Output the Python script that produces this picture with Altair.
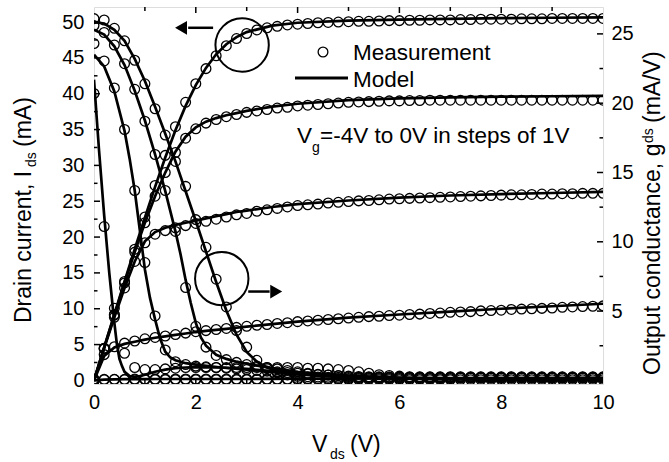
import altair as alt
import pandas as pd

# ---------------- data ----------------
VDS = [0.0, 0.2, 0.4, 0.6, 0.8, 1.0, 1.2, 1.4, 1.6, 1.8, 2.0, 2.2, 2.4, 2.6, 2.8,
       3.0, 3.2, 3.4, 3.6, 3.8, 4.0, 4.2, 4.4, 4.6, 4.8, 5.0, 5.2, 5.4, 5.6, 5.8,
       6.0, 6.2, 6.4, 6.6, 6.8, 7.0, 7.2, 7.4, 7.6, 7.8, 8.0, 8.2, 8.4, 8.6, 8.8,
       9.0, 9.2, 9.4, 9.6, 9.8, 10.0]

# measured drain current (mA), Vg = 0, -1, -2, -3, -4 V
IDS_M_0 = [0, 4.5, 9.2, 13.8, 18.3, 22.8, 27.2, 31.4, 35.4, 38.8, 41.4, 43.5, 45.3, 46.7, 47.7,
           48.4, 48.9, 49.2, 49.4, 49.6, 49.7, 49.8, 49.9, 49.95, 50.0, 50.05, 50.1, 50.1, 50.15, 50.2,
           50.2, 50.25, 50.25, 50.3, 50.3, 50.3, 50.35, 50.35, 50.4, 50.4, 50.4, 50.4, 50.45, 50.45, 50.45,
           50.5, 50.5, 50.5, 50.5, 50.5, 50.5]
IDS_M_1 = [0, 4.5, 9.1, 13.6, 17.9, 22.0, 25.7, 29.0, 31.8, 33.8, 35.1, 35.9, 36.4, 36.8, 37.1,
           37.4, 37.6, 37.8, 38.0, 38.1, 38.3, 38.4, 38.5, 38.6, 38.7, 38.8, 38.85, 38.9, 38.95, 39.0,
           39.0, 39.05, 39.05, 39.1, 39.1, 39.1, 39.1, 39.1, 39.1, 39.1, 39.1, 39.1, 39.1, 39.1, 39.1,
           39.1, 39.1, 39.1, 39.1, 39.1, 39.1]
IDS_M_2 = [0, 4.4, 8.8, 12.9, 16.6, 19.2, 20.4, 20.9, 21.3, 21.6, 21.9, 22.2, 22.5, 22.8, 23.1,
           23.3, 23.6, 23.8, 24.0, 24.2, 24.4, 24.5, 24.6, 24.75, 24.85, 24.95, 25.05, 25.1, 25.2, 25.3,
           25.35, 25.4, 25.45, 25.5, 25.55, 25.6, 25.65, 25.7, 25.75, 25.8, 25.85, 25.9, 25.9, 25.95, 26.0,
           26.0, 26.05, 26.05, 26.1, 26.1, 26.1]
IDS_M_3 = [0, 3.6, 4.7, 5.2, 5.5, 5.8, 6.0, 6.2, 6.4, 6.6, 6.8, 6.95, 7.1, 7.25, 7.4,
           7.55, 7.7, 7.8, 7.95, 8.05, 8.2, 8.3, 8.4, 8.5, 8.6, 8.7, 8.8, 8.9, 8.95, 9.05,
           9.1, 9.2, 9.25, 9.35, 9.4, 9.5, 9.55, 9.6, 9.7, 9.75, 9.8, 9.9, 9.95, 10.0, 10.05,
           10.1, 10.2, 10.25, 10.3, 10.35, 10.4]
IDS_M_4 = [0, 0.1, 0.15, 0.15, 0.2, 0.2, 0.2, 0.2, 0.2, 0.2, 0.2, 0.2, 0.2, 0.2, 0.2,
           0.2, 0.2, 0.2, 0.2, 0.2, 0.25, 0.25, 0.25, 0.25, 0.25, 0.25, 0.25, 0.25, 0.25, 0.25,
           0.25, 0.25, 0.25, 0.25, 0.25, 0.25, 0.3, 0.3, 0.3, 0.3, 0.3, 0.3, 0.3, 0.3, 0.3,
           0.3, 0.3, 0.3, 0.3, 0.3, 0.3]

# measured output conductance (mA/V)
GDS_M_0 = [26.1, 26.0, 25.4, 24.5, 23.1, 21.4, 19.6, 17.7, 15.8, 14.0, 11.6, 9.6, 7.3, 5.3, 3.6,
           2.4, 1.45, 0.85, 0.55, 0.4, 0.3, 0.27, 0.25, 0.23, 0.22, 0.21, 0.2, 0.2, 0.2, 0.2,
           0.2, 0.2, 0.2, 0.2, 0.2, 0.2, 0.2, 0.2, 0.2, 0.2, 0.2, 0.2, 0.2, 0.2, 0.2,
           0.2, 0.2, 0.2, 0.2, 0.2, 0.2]
GDS_M_1 = [25.6, 25.1, 24.2, 22.85, 21.0, 18.7, 16.3, 13.7, 10.75, 6.7, 3.9, 2.4, 1.8, 1.5, 1.3,
           1.14, 1.03, 0.93, 0.83, 0.72, 0.62, 0.52, 0.44, 0.39, 0.34, 0.28, 0.22, 0.22, 0.22, 0.22,
           0.22, 0.22, 0.22, 0.22, 0.22, 0.22, 0.22, 0.22, 0.22, 0.22, 0.22, 0.22, 0.22, 0.22, 0.22,
           0.22, 0.22, 0.22, 0.22, 0.22, 0.22]
GDS_M_2 = [24.3, 23.05, 21.1, 18.1, 13.7, 8.5, 4.65, 2.2, 1.35, 1.14, 1.03, 0.98, 0.93, 0.88, 0.83,
           0.78, 0.72, 0.67, 0.62, 0.57, 0.52, 0.47, 0.41, 0.39, 0.36, 0.31, 0.28, 0.27, 0.26, 0.25,
           0.24, 0.23, 0.23, 0.23, 0.23, 0.23, 0.23, 0.23, 0.23, 0.23, 0.23, 0.23, 0.23, 0.23, 0.23,
           0.23, 0.23, 0.23, 0.23, 0.23, 0.23]
GDS_M_3 = [20.7, 11.1, 5.2, 1.96, 0.93, 0.78, 0.78, 0.83, 0.88, 0.93, 0.93, 0.93, 0.93, 0.93, 0.93,
           0.93, 0.93, 0.93, 0.93, 0.93, 0.93, 0.88, 0.88, 0.83, 0.78, 0.72, 0.62, 0.52, 0.41, 0.36,
           0.31, 0.26, 0.26, 0.26, 0.26, 0.26, 0.26, 0.26, 0.26, 0.26, 0.26, 0.26, 0.26, 0.26, 0.26,
           0.26, 0.26, 0.26, 0.26, 0.26, 0.26]
GDS_M_4 = [0.1, 0.08, 0.06, 0.05, 0.05, 0.05, 0.05, 0.05, 0.05, 0.05, 0.05, 0.05, 0.05, 0.05, 0.05,
           0.05, 0.05, 0.05, 0.05, 0.05, 0.05, 0.05, 0.05, 0.05, 0.05, 0.05, 0.05, 0.05, 0.05, 0.05,
           0.05, 0.05, 0.05, 0.05, 0.05, 0.05, 0.05, 0.05, 0.05, 0.05, 0.05, 0.05, 0.05, 0.05, 0.05,
           0.05, 0.05, 0.05, 0.05, 0.05, 0.05]

# model curves
VDS_MI = [0, 0.2, 0.4, 0.6, 0.8, 1.0, 1.2, 1.4, 1.6, 1.8, 2.0, 2.2, 2.4, 2.6, 2.8, 3.0, 3.5, 4, 5, 6, 7, 8, 9, 10]
IDS_F_0 = [0, 4.6, 9.2, 13.8, 18.3, 22.7, 27.0, 31.1, 34.9, 38.3, 41.2, 43.6, 45.5, 46.9, 47.9, 48.6, 49.5, 49.9, 50.2, 50.35, 50.45, 50.55, 50.6, 50.65]
IDS_F_1 = [0, 4.6, 9.1, 13.6, 17.9, 22.0, 25.7, 29.0, 31.9, 34.0, 35.3, 36.1, 36.6, 37.0, 37.3, 37.6, 38.2, 38.6, 39.1, 39.35, 39.5, 39.6, 39.65, 39.7]
IDS_F_2 = [0, 4.5, 8.8, 12.9, 16.6, 19.4, 20.7, 21.3, 21.7, 22.0, 22.3, 22.6, 22.9, 23.2, 23.5, 23.7, 24.2, 24.6, 25.1, 25.5, 25.8, 26.0, 26.15, 26.3]
IDS_F_3 = [0, 3.4, 4.6, 5.1, 5.4, 5.7, 5.95, 6.15, 6.35, 6.55, 6.75, 6.9, 7.05, 7.2, 7.35, 7.5, 7.85, 8.2, 8.75, 9.2, 9.6, 10.0, 10.35, 10.7]
IDS_F_4 = [0, 0.1, 0.15, 0.17, 0.18, 0.19, 0.2, 0.2, 0.2, 0.2, 0.2, 0.2, 0.2, 0.2, 0.2, 0.2, 0.22, 0.24, 0.26, 0.28, 0.3, 0.32, 0.34, 0.36]

VDS_G0 = [0, 0.2, 0.4, 0.6, 0.8, 1.0, 1.2, 1.4, 1.6, 1.8, 2.0, 2.2, 2.4, 2.6, 2.8, 3.0, 3.2, 3.4, 3.6, 3.8, 4.0, 4.5, 5, 6, 7, 8, 10]
GDS_F_0 = [25.85, 25.75, 25.3, 24.5, 23.2, 21.6, 19.75, 17.8, 15.8, 13.65, 11.5, 9.3, 7.1, 5.05, 3.3, 2.05, 1.35, 0.93, 0.67, 0.52, 0.44, 0.31, 0.21, 0.13, 0.08, 0.05, 0.05]
VDS_G1 = [0, 0.2, 0.4, 0.6, 0.8, 1.0, 1.2, 1.4, 1.6, 1.7, 1.8, 1.9, 2.0, 2.1, 2.2, 2.4, 2.6, 2.8, 3.0, 3.5, 4.0, 4.5, 5, 6, 7, 8, 10]
GDS_F_1 = [25.3, 24.95, 24.1, 22.75, 20.9, 18.75, 16.3, 13.65, 10.75, 9.1, 7.25, 5.6, 4.15, 3.1, 2.5, 1.85, 1.55, 1.35, 1.2, 0.88, 0.62, 0.44, 0.31, 0.16, 0.09, 0.06, 0.05]
VDS_G2 = [0, 0.2, 0.4, 0.6, 0.7, 0.8, 0.9, 1.0, 1.1, 1.2, 1.3, 1.4, 1.5, 1.6, 1.8, 2.0, 2.5, 3, 3.5, 4, 5, 6, 8, 10]
GDS_F_2 = [23.5, 22.65, 20.85, 18.0, 16.0, 13.7, 10.85, 8.0, 5.95, 4.4, 3.0, 2.07, 1.65, 1.45, 1.24, 1.14, 0.93, 0.78, 0.62, 0.47, 0.26, 0.16, 0.1, 0.05]
VDS_G3 = [0, 0.05, 0.1, 0.2, 0.3, 0.4, 0.45, 0.5, 0.55, 0.6, 0.7, 0.8, 0.9, 1.0, 1.2, 1.4, 1.6, 1.8, 2.0, 2.5, 3.0, 3.5, 4.0, 4.5, 5, 6, 7, 8, 10]
GDS_F_3 = [21.7, 19.1, 16.55, 11.9, 7.75, 4.15, 2.6, 1.55, 1.03, 0.62, 0.31, 0.26, 0.31, 0.41, 0.62, 0.78, 0.88, 0.93, 0.96, 0.93, 0.83, 0.67, 0.52, 0.41, 0.31, 0.21, 0.16, 0.16, 0.16]

# axis ticks
X_LABELS = [0, 2, 4, 6, 8, 10]
X_MINOR = [1, 3, 5, 7, 9]
X_MAJOR_INNER = [2, 4, 6, 8]
L_LABELS = [0, 5, 10, 15, 20, 25, 30, 35, 40, 45, 50]
L_MINOR = [2.5, 7.5, 12.5, 17.5, 22.5, 27.5, 32.5, 37.5, 42.5, 47.5]
R_LABELS = [5, 10, 15, 20, 25]
R_MINOR = [2.5, 7.5, 12.5, 17.5, 22.5]

# annotation (circles + arrows), in data units
CIRC_X = [2.91, 2.51]
CIRC_Y = [46.8, 14.2]
ARROW_X = [1.85, 3.03]
ARROW_X2 = [2.34, 3.45]
ARROW_Y = [49.2, 12.4]
HEAD_X = [1.71, 3.58]
HEAD_SHAPE = ["triangle-left", "triangle-right"]

FONT = "Liberation Sans"
W, H = 509, 377
L_DOM = [-0.5, 52.1]
R_DOM = [-0.26, 26.94]


def long_df(xs, series):
    rows = []
    for name, vals in series.items():
        xx = xs[name] if isinstance(xs, dict) else xs
        for a, b in zip(xx, vals):
            rows.append({"x": a, "y": b, "curve": name})
    return pd.DataFrame(rows)


ids_meas = long_df(VDS, {"0": IDS_M_0, "-1": IDS_M_1, "-2": IDS_M_2, "-3": IDS_M_3, "-4": IDS_M_4})
ids_fit = long_df(VDS_MI, {"0": IDS_F_0, "-1": IDS_F_1, "-2": IDS_F_2, "-3": IDS_F_3, "-4": IDS_F_4})
gds_meas = long_df(VDS, {"0": GDS_M_0, "-1": GDS_M_1, "-2": GDS_M_2, "-3": GDS_M_3, "-4": GDS_M_4})
gds_fit = long_df({"0": VDS_G0, "-1": VDS_G1, "-2": VDS_G2, "-3": VDS_G3},
                  {"0": GDS_F_0, "-1": GDS_F_1, "-2": GDS_F_2, "-3": GDS_F_3})

X_SCALE = alt.Scale(domain=[0, 10], nice=False, zero=False)
X_AXIS = alt.Axis(values=X_LABELS, title=None, ticks=False, domain=False, grid=False,
                  labelFontSize=20, labelPadding=8, labelFont=FONT, labelColor="black",
                  labelFlush=False)
L_AXIS = alt.Axis(orient="left", values=L_LABELS, title=None, ticks=False, domain=False, grid=False,
                  labelFontSize=20, labelPadding=10, labelFont=FONT, labelColor="black")
R_AXIS = alt.Axis(orient="right", values=R_LABELS, title=None, ticks=False, domain=False, grid=False,
                  labelFontSize=20, labelPadding=8, labelFont=FONT, labelColor="black")


def xe(f="x"):
    return alt.X(f"{f}:Q", scale=X_SCALE, axis=X_AXIS)


def yl(f="y"):
    return alt.Y(f"{f}:Q", scale=alt.Scale(domain=L_DOM, nice=False, zero=False), axis=L_AXIS)


def yr(f="y"):
    return alt.Y(f"{f}:Q", scale=alt.Scale(domain=R_DOM, nice=False, zero=False), axis=R_AXIS)


ONE = pd.DataFrame({"k": [0]})


def txt(s, x, y, size=22.5, angle=0, align="left", baseline="alphabetic"):
    return alt.Chart(ONE).mark_text(text=s, fontSize=size, font=FONT, align=align,
                                    baseline=baseline, angle=angle, color="black").encode(
        x=alt.value(x), y=alt.value(y))


LINE_W = 2.7
PT = dict(shape="circle", filled=False, color="black", size=95, strokeWidth=1.3, opacity=1)

# ---- left group (drain current) ----
ids_lines = alt.Chart(ids_fit).mark_line(color="black", strokeWidth=LINE_W, clip=True).encode(
    x=xe(), y=yl(), detail="curve:N")
ids_pts = alt.Chart(ids_meas).mark_point(clip=True, **PT).encode(x=xe(), y=yl(), detail="curve:N")

lt_major = alt.Chart(pd.DataFrame({"v": L_LABELS})).mark_rule(color="black", strokeWidth=1.5).encode(
    y=yl("v"), x=alt.value(0), x2=alt.value(6))
lt_minor = alt.Chart(pd.DataFrame({"v": L_MINOR})).mark_rule(color="black", strokeWidth=1.5).encode(
    y=yl("v"), x=alt.value(0), x2=alt.value(3.5))
top_major = alt.Chart(pd.DataFrame({"v": X_MAJOR_INNER})).mark_rule(color="black", strokeWidth=1.5).encode(
    x=xe("v"), y=alt.value(0), y2=alt.value(6))
top_minor = alt.Chart(pd.DataFrame({"v": X_MINOR})).mark_rule(color="black", strokeWidth=1.5).encode(
    x=xe("v"), y=alt.value(0), y2=alt.value(4))
bot_major = alt.Chart(pd.DataFrame({"v": X_MAJOR_INNER})).mark_rule(color="black", strokeWidth=1.5).encode(
    x=xe("v"), y=alt.value(H), y2=alt.value(H - 6))
bot_minor = alt.Chart(pd.DataFrame({"v": X_MINOR})).mark_rule(color="black", strokeWidth=1.5).encode(
    x=xe("v"), y=alt.value(H), y2=alt.value(H - 4))

circles = alt.Chart(pd.DataFrame({"x": CIRC_X, "y": CIRC_Y})).mark_point(
    shape="circle", filled=False, color="black", size=2850, strokeWidth=2, opacity=1).encode(x=xe(), y=yl())
shafts = alt.Chart(pd.DataFrame({"x": ARROW_X, "x2": ARROW_X2, "y": ARROW_Y})).mark_rule(
    color="black", strokeWidth=2.5).encode(x=xe(), x2="x2:Q", y=yl())
heads = alt.Chart(pd.DataFrame({"x": HEAD_X, "y": ARROW_Y, "s": HEAD_SHAPE})).mark_point(
    filled=True, color="black", size=190, opacity=1).encode(
    x=xe(), y=yl(), shape=alt.Shape("s:N", scale=None))

leg_pt = alt.Chart(ONE).mark_point(**PT).encode(x=alt.value(229), y=alt.value(45))
leg_ln = alt.Chart(ONE).mark_rule(color="black", strokeWidth=3).encode(
    x=alt.value(201), x2=alt.value(254), y=alt.value(71))

texts = [
    txt("Measurement", 259, 53),
    txt("Model", 259, 80),
    txt("V", 203, 136),
    txt("g", 218, 145, size=14),
    txt("=-4V to 0V in steps of 1V", 226, 136),
    # x title
    txt("V", 218, 445, size=23),
    txt("ds", 236, 452, size=14),
    txt("(V)", 256, 445, size=23),
    # left title (rotated)
    txt("Drain current, I", -63, 316, size=23, angle=270),
    txt("ds", -58, 160, size=14, angle=270),
    txt("(mA)", -63, 140, size=23, angle=270),
    # right title (rotated)
    txt("Output conductance, g", 566, 368, size=23, angle=270),
    txt("ds", 559, 136, size=14, angle=270),
    txt("(mA/V)", 566, 116, size=23, angle=270),
]

left = alt.layer(ids_lines, ids_pts, lt_major, lt_minor, top_major, top_minor, bot_major, bot_minor,
                 circles, shafts, heads, leg_pt, leg_ln, *texts)

# ---- right group (output conductance) ----
gds_lines = alt.Chart(gds_fit).mark_line(color="black", strokeWidth=LINE_W, clip=True).encode(
    x=xe(), y=yr(), detail="curve:N")
gds_pts = alt.Chart(gds_meas).mark_point(clip=True, **PT).encode(x=xe(), y=yr(), detail="curve:N")
rt_major = alt.Chart(pd.DataFrame({"v": R_LABELS})).mark_rule(color="black", strokeWidth=1.5).encode(
    y=yr("v"), x=alt.value(W), x2=alt.value(W - 6))
rt_minor = alt.Chart(pd.DataFrame({"v": R_MINOR})).mark_rule(color="black", strokeWidth=1.5).encode(
    y=yr("v"), x=alt.value(W), x2=alt.value(W - 3.5))

right = alt.layer(gds_lines, gds_pts, rt_major, rt_minor)

chart = alt.layer(left, right).resolve_scale(y="independent").properties(
    width=W, height=H,
    padding={"left": 94, "top": 7, "right": 66, "bottom": 78},
    autosize=alt.AutoSizeParams(type="none"),
).configure_view(stroke="black", strokeWidth=2).configure(background="white")

chart.save("out.html", embed_options={"renderer": "svg", "actions": False})
